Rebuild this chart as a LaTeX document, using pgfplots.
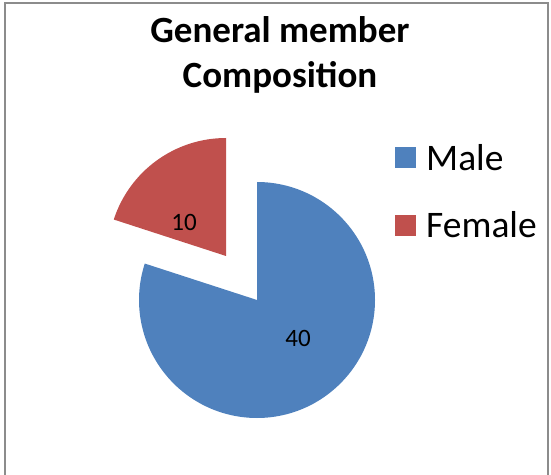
\documentclass[border=0pt]{standalone}
\usepackage{fontspec}
\setmainfont{Carlito}
\usepackage{pgfplots}
\pgfplotsset{compat=1.18}
\definecolor{maleblue}{HTML}{4F81BD}
\definecolor{femalered}{HTML}{C0504D}
\definecolor{framegray}{HTML}{8C8C8C}
\begin{document}
\begin{tikzpicture}
% values
\def\male{40}
\def\female{10}
\pgfmathsetmacro{\total}{\male+\female}
\pgfmathsetmacro{\maleang}{360*\male/\total}
\pgfmathsetmacro{\femang}{360*\female/\total}
\begin{axis}[
  width=551pt, height=474pt, scale only axis,
  xmin=0, xmax=551, ymin=0, ymax=474,
  axis lines=none, clip=false,
  legend style={draw=none, fill=none, at={(axis cs:392,334)}, anchor=north west,
    font=\fontsize{37.5}{40}\selectfont, row sep=36pt,
    /tikz/every even column/.append style={column sep=2pt}},
  legend cell align=left,
]
\addlegendimage{area legend, fill=maleblue, draw=none, legend image code/.code={\fill[maleblue] (0pt,-10pt) rectangle (21pt,11pt);}}
\addlegendentry{\hspace{8pt}Male}
\addlegendimage{area legend, fill=femalered, draw=none, legend image code/.code={\fill[femalered] (0pt,-10pt) rectangle (21pt,11pt);}}
\addlegendentry{\hspace{8pt}Female}
\path (axis cs:0,0) rectangle (axis cs:551,474);
% male slice
\fill[maleblue] (axis cs:257,174) -- ++(90:118pt) arc[start angle=90, end angle={90-\maleang}, radius=118pt] -- cycle;
% female slice (exploded)
\fill[femalered] (axis cs:226,218) -- ++(90:118pt) arc[start angle=90, end angle={90+\femang}, radius=118pt] -- cycle;
\node[font=\fontsize{25}{28}\selectfont] at (axis cs:298,136) {\male};
\node[font=\fontsize{25}{28}\selectfont] at (axis cs:184,252) {\female};
\node[font=\fontsize{37}{45}\selectfont\bfseries, align=center, anchor=north] at (axis cs:280,461) {General member\\Composition};
\draw[framegray, line width=2pt, overlay] (axis cs:5,-10) -- (axis cs:5,471) -- (axis cs:548,471) -- (axis cs:548,-10);
\end{axis}
\end{tikzpicture}
\end{document}
